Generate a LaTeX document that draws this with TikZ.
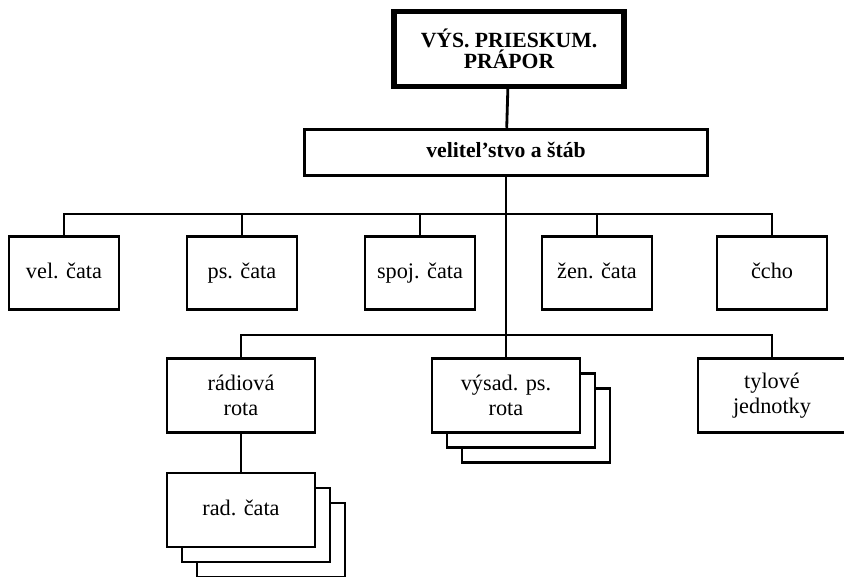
\documentclass[tikz,border=0pt]{standalone}
\usepackage{fontspec}
\setmainfont{Liberation Serif}
\usepackage{tikz}

\tikzset{
	unit/.style={draw, line width=2.4pt, fill=white, align=center, inner sep=2pt,
		minimum width=3.3cm, minimum height=2.2cm,
		font=\fontsize{19}{20}\selectfont},
	oneline/.style={text height=12pt, text depth=3pt},
	wide/.style={minimum width=4.44cm, minimum height=2.22cm},
	conn/.style={line width=2.4pt}
}

\begin{document}
\begin{tikzpicture}[x=0.03cm,y=-0.03cm]

	\useasboundingbox (0,0) rectangle (844,576);

	% velenie
	\node[unit, line width=4.5pt, minimum width=6.9cm, minimum height=2.25cm,
		font=\fontsize{18.5}{18}\selectfont\bfseries] (prapor) at (509,49) {V\'YS. PRIESKUM.\\PR\'APOR};
	\node[unit, oneline, minimum width=12.1cm, minimum height=1.4cm,
		font=\fontsize{18.5}{20}\selectfont\bfseries] (stab) at (506,152.5) {velitel’stvo a št\'ab};

	\coordinate (b1) at (506,214);
	\coordinate (b2) at (506,335);

	% cata
	\node[unit, oneline] (vel) at (64,273) {vel. čata};
	\node[unit, oneline] (ps) at (242,273) {ps. čata};
	\node[unit, oneline] (spoj) at (420,273) {spoj. čata};
	\node[unit, oneline] (zen) at (597,273) {žen. čata};
	\node[unit, oneline] (cho) at (772,273) {čcho};

	% roty
	\node[unit, wide, font=\fontsize{19}{21}\selectfont] (rad) at (241,395.5) {r\'adiov\'a\\rota};
	\foreach \d in {30,15}
		\node[unit, wide] at (506+\d,395.5+\d) {};
	\node[unit, wide, font=\fontsize{19}{21}\selectfont] (vps) at (506,395.5) {v\'ysad. ps.\\rota};
	\node[unit, wide, font=\fontsize{19}{21}\selectfont] (tyl) at (772,395.5) {tylov\'e\\jednotky};

	\foreach \d in {30,15}
		\node[unit, wide] at (241+\d,510+\d) {};
	\node[unit, wide, oneline] (radc) at (241,510) {rad. čata};

	% spojnice
	\draw[conn] (prapor) -- (stab);
	\draw[conn] (stab.south) -- (vps.north);
	\draw[conn] (vel.north) -- (vel.north |- b1) -- (cho.north |- b1) -- (cho.north);
	\foreach \n in {ps,spoj,zen}
		\draw[conn] (\n.north) -- (\n.north |- b1);
	\draw[conn] (rad.north) -- (rad.north |- b2) -- (tyl.north |- b2) -- (tyl.north);
	\draw[conn] (rad) -- (radc);

\end{tikzpicture}
\end{document}
